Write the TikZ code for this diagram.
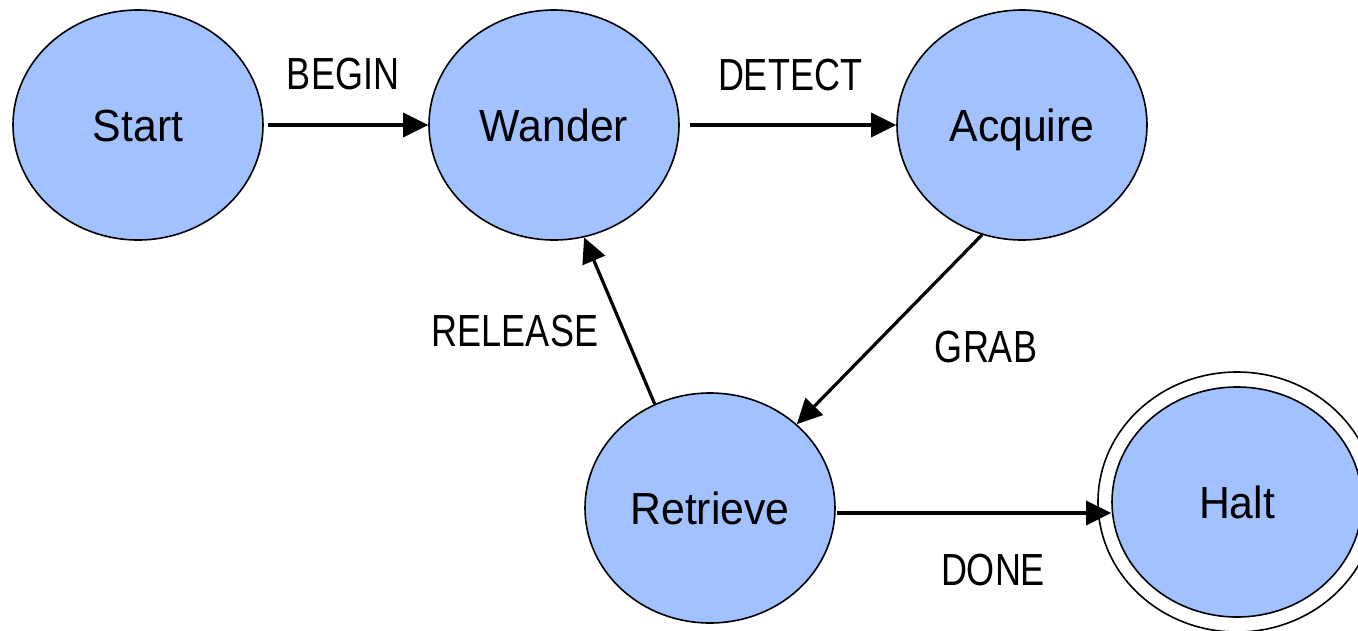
\documentclass[tikz,border=0pt]{standalone}
\usepackage{fontspec}
\setmainfont{Liberation Sans}
\newfontfamily\narrowfont[FakeStretch=0.8]{Liberation Sans}
\newfontfamily\statefont[FakeStretch=0.95]{Liberation Sans}
\usetikzlibrary{shapes.geometric,arrows.meta,calc}
\definecolor{statefill}{RGB}{162,193,255}
\tikzset{
  state/.style={ellipse, draw=black, line width=1.6pt, fill=statefill,
    minimum width=250pt, minimum height=230pt, inner sep=0pt,
    font=\statefont\fontsize{45}{52}\selectfont, text height=32pt, text depth=0pt},
  trans/.style={line width=3.2pt, -{Triangle[length=25pt,width=24pt]}},
  lbl/.style={font=\narrowfont\fontsize{45}{52}\selectfont, inner sep=0pt, text height=32pt, text depth=0pt}
}
\begin{document}
\begin{tikzpicture}[x=1pt,y=-1pt]
\useasboundingbox (0,0) rectangle (1358,630);
\clip (0,0) rectangle (1358,630);
\node[state] (start) at (138,125) {Start};
\node[state] (wander) at (554,125) {Wander};
\node[state] (acquire) at (1022,125) {Acquire};
\node[state] (retrieve) at (710,508) {Retrieve};
\draw[line width=1.6pt, fill=white] (1237,502) ellipse [x radius=139, y radius=130];
\node[state] (halt) at (1237,502) {Halt};

\draw[trans, shorten <=4pt] (start.east) -- (wander.west);
\draw[trans, shorten <=10pt] (wander.east) -- (acquire.west);
\draw[trans] (acquire.250.5) -- (retrieve.44);
\draw[trans] (retrieve.118.8) -- (wander.285.5);
\path (retrieve.east) ++(1,5) coordinate (d1);
\draw[trans] (d1) -- (d1 -| halt.west);

\node[lbl] (lbegin) at (343,73) {BEGIN};
\node[lbl] (ldetect) at (790,74) {DETECT};
\node[lbl] (lgrab) at (986,346) {GRAB};
\node[lbl] (lrelease) at (515,330) {RELEASE};
\node[lbl] (ldone) at (993,569) {DONE};
\end{tikzpicture}
\end{document}
